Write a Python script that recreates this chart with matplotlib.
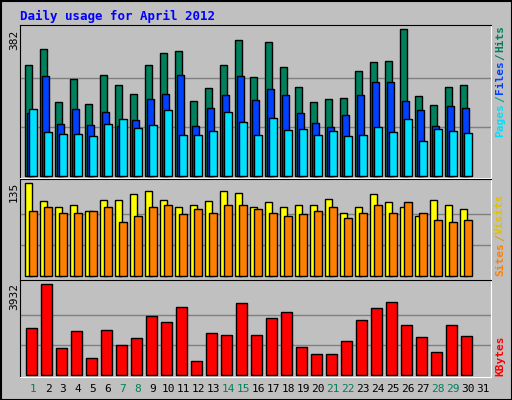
import matplotlib
matplotlib.use("Agg")
import matplotlib.pyplot as plt
from matplotlib.patches import Rectangle

days = list(range(1, 32))
weekend_days = [1, 7, 8, 14, 15, 21, 22, 28, 29]

hits = [288, 330, 192, 252, 187, 262, 236, 213, 288, 319, 325, 195, 229, 288, 353,
        257, 348, 283, 231, 192, 200, 203, 273, 296, 299, 382, 208, 184, 231, 236]
files = [164, 260, 135, 174, 132, 166, 130, 145, 200, 213, 262, 130, 177, 210, 260,
         197, 226, 210, 164, 138, 127, 158, 210, 244, 244, 195, 171, 130, 182, 177]
pages = [174, 114, 109, 109, 104, 135, 148, 125, 132, 171, 106, 106, 117, 166, 140,
         106, 151, 119, 122, 106, 117, 104, 106, 127, 114, 148, 91, 122, 117, 112]
visits = [135, 109, 101, 104, 95, 110, 110, 119, 123, 110, 100, 104, 109, 123, 120,
          100, 107, 101, 104, 103, 112, 92, 100, 119, 107, 101, 87, 110, 104, 97]
sites = [94, 101, 91, 91, 95, 101, 79, 87, 100, 103, 90, 98, 92, 104, 104,
         98, 92, 87, 90, 95, 101, 84, 92, 103, 92, 107, 92, 81, 79, 81]
kbytes = [2031, 3932, 1166, 1901, 734, 1944, 1296, 1598, 2549, 2290, 2938, 605, 1814, 1728, 3110,
          1728, 2462, 2722, 1210, 907, 907, 1469, 2376, 2894, 3154, 2160, 1642, 994, 2160, 1685]

BG = "#C0C0C0"
HITS_C, FILES_C, PAGES_C = "#00805C", "#0040FF", "#00E0FF"
VISITS_C, SITES_C, KB_C = "#FFFF00", "#FF8000", "#FF0000"
MONO = "DejaVu Sans Mono"

W, H = 512, 400
fig = plt.figure(figsize=(5.12, 4.0), dpi=100)
fig.patch.set_facecolor(BG)
fig.patches.append(Rectangle((0.5 / W, 0.5 / H), 1 - 1 / W, 1 - 1 / H, transform=fig.transFigure,
                             fill=False, edgecolor="black", linewidth=1.5))


def panel(top, bottom, ymin, ymax, vmax):
    ax = fig.add_axes([20 / W, 1 - bottom / H, 471 / W, (bottom - top) / H])
    ax.set_facecolor(BG)
    ax.set_xlim(0, 471 / 15)
    ax.set_ylim(ymin, ymax)
    for g in (vmax / 3, 2 * vmax / 3):
        ax.axhline(g, color="#808080", linewidth=1, zorder=0)
    ax.set_xticks([])
    ax.set_yticks([])
    for s in ("left", "top"):
        ax.spines[s].set_color("black")
    for s in ("right", "bottom"):
        ax.spines[s].set_color("white")
    return ax


n = len(hits)
idx = list(range(n))
ek = dict(edgecolor="black", linewidth=1, align="edge")

ax1 = panel(25, 178, -4.4, 393, 382)
ax1.bar([i + 0.353 for i in idx], hits, width=0.47, color=HITS_C, **ek)
ax1.bar([i + 0.49 for i in idx], files, width=0.47, color=FILES_C, **ek)
ax1.bar([i + 0.62 for i in idx], pages, width=0.49, color=PAGES_C, **ek)

ax2 = panel(179, 280, -5.4, 141, 135)
ax2.bar([i + 0.353 for i in idx], visits, width=0.47, color=VISITS_C, **ek)
ax2.bar([i + 0.62 for i in idx], sites, width=0.49, color=SITES_C, **ek)

ax3 = panel(280, 377, -73, 4118, 3932)
ax3.bar([i + 0.42 for i in idx], kbytes, width=0.68, color=KB_C, **ek)

fig.text(20 / W, 1 - 16 / H, "Daily usage for April 2012", color="#0000FF", family=MONO,
         fontsize=9, fontweight="bold", va="center")

for val, y in ((max(hits), 40), (max(visits), 192), (max(kbytes), 296)):
    fig.text(14 / W, 1 - y / H, str(val), rotation=90, family=MONO, fontsize=8,
             ha="center", va="center")

renderer = fig.canvas.get_renderer()


# right-side legends, stacked bottom-to-top using measured text extents
def vlegend(parts, x, y_bottom):
    y = y_bottom
    for text, color in parts:
        t = fig.text(x / W, 1 - y / H, text, rotation=90, color=color, family=MONO,
                     fontsize=8, fontweight="bold", ha="center", va="bottom")
        y -= t.get_window_extent(renderer).height + 1


vlegend([("Pages", PAGES_C), ("/", "#00A0A0"), ("Files", FILES_C), ("/", HITS_C), ("Hits", HITS_C)], 500, 137)
vlegend([("Sites", SITES_C), ("/", "#E0A000"), ("Visits", "#E0C000")], 500, 276)
vlegend([("KBytes", KB_C)], 500, 376)

for d in days:
    fig.text((20 + 15 * (d - 1) + 13) / W, 1 - 389 / H, str(d), family=MONO, fontsize=8,
             color=HITS_C if d in weekend_days else "black", ha="center", va="center")

fig.savefig("out.png", dpi=100, facecolor=BG)
